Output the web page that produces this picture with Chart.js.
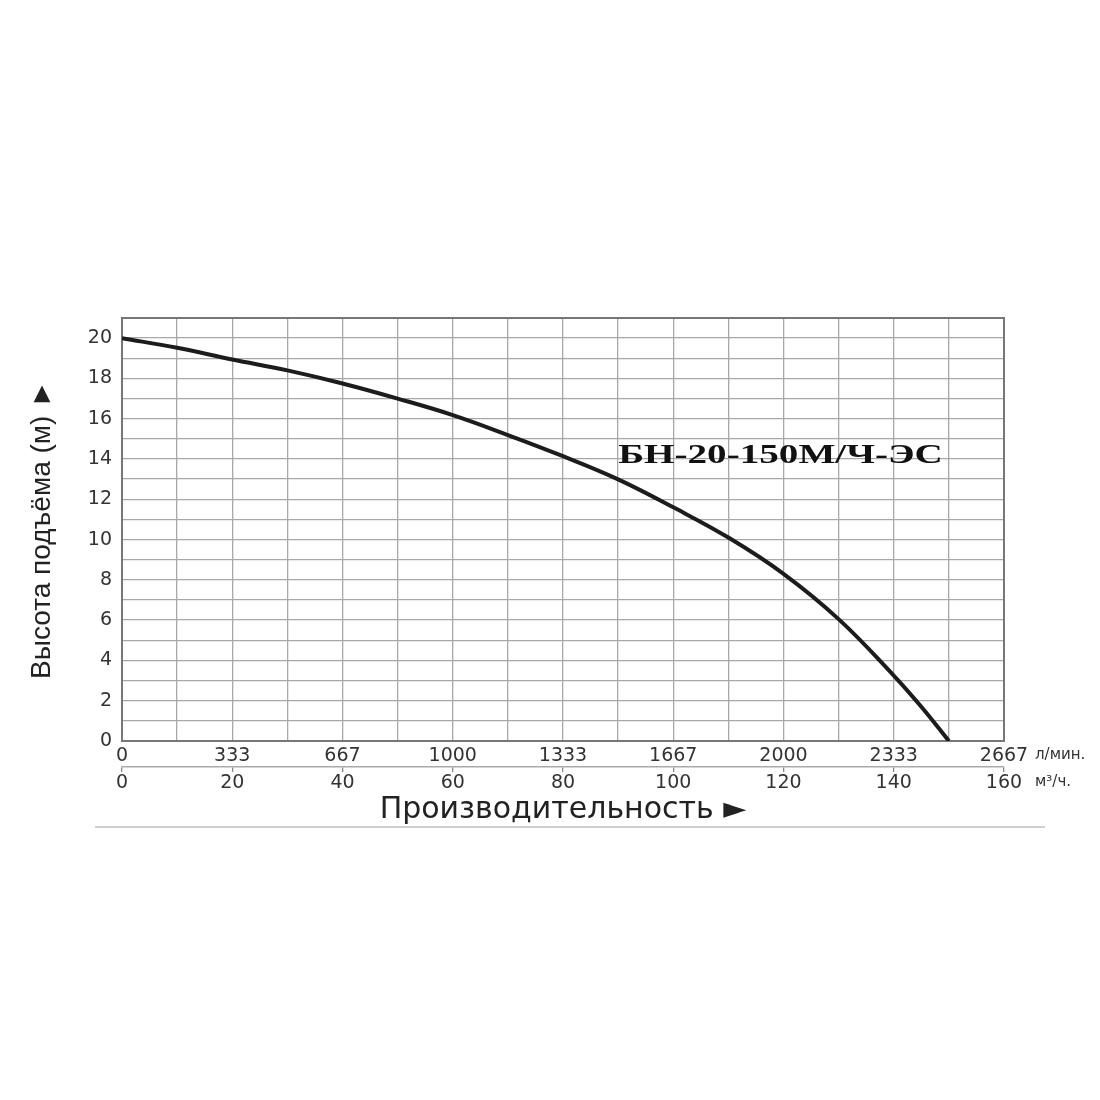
<!DOCTYPE html>
<html>
<head>
<meta charset="utf-8">
<script src="https://cdn.jsdelivr.net/npm/chart.js@4/dist/chart.umd.min.js"></script>
<style>
  html,body{margin:0;padding:0;background:#fff;}
  #wrap{width:1100px;height:1100px;}
</style>
</head>
<body>
<div id="wrap"><canvas id="c" width="1100" height="1100"></canvas></div>
<script>
// ---- data ----
const flowM3h = [0, 10, 20, 30, 40, 50, 60, 70, 80, 90, 100, 110, 120, 130, 140, 145, 150];
const headM   = [20, 19.52, 18.94, 18.4, 17.75, 17.0, 16.18, 15.19, 14.14, 12.99, 11.6, 10.1, 8.3, 6.05, 3.25, 1.7, 0];

const lpmTickLabels = ['0', '333', '667', '1000', '1333', '1667', '2000', '2333', '2667'];
const m3hTickLabels = ['0', '20', '40', '60', '80', '100', '120', '140', '160'];
const yTickLabels   = ['0', '2', '4', '6', '8', '10', '12', '14', '16', '18', '20'];

const modelName = 'БН-20-150М/Ч-ЭС';
const yTitle = 'Высота подъёма (м) ►';
const xTitle = 'Производительность ►';
const lpmUnit = 'л/мин.';
const m3hUnit = 'м³/ч.';
const modelLabelAt = {x: 90, y: 13.8};

const decor = {
  id: 'decor',
  beforeDatasetsDraw(chart) {
    const {ctx, chartArea: a} = chart;
    ctx.save();
    ctx.strokeStyle = '#777';
    ctx.lineWidth = 2;
    ctx.strokeRect(a.left, a.top, a.right - a.left, a.bottom - a.top);
    ctx.restore();
  },
  afterDraw(chart) {
    const {ctx, chartArea: a} = chart;
    const xs = chart.scales.x, x2 = chart.scales.x2, ys = chart.scales.y;
    ctx.save();
    // units
    ctx.fillStyle = '#333';
    ctx.font = '15px "DejaVu Sans"';
    ctx.textBaseline = 'middle';
    ctx.textAlign = 'left';
    ctx.fillText(lpmUnit, a.right + 31, a.bottom + 14);
    ctx.fillText(m3hUnit, a.right + 31, x2.top + 15);
    // model label
    const px = xs.getPixelForValue(modelLabelAt.x);
    const py = ys.getPixelForValue(modelLabelAt.y);
    ctx.fillStyle = '#111';
    ctx.font = 'bold 27px "Liberation Serif"';
    ctx.textBaseline = 'alphabetic';
    ctx.translate(px, py);
    ctx.scale(1.45, 1);
    ctx.fillText(modelName, 0, 0);
    ctx.setTransform(1, 0, 0, 1, 0, 0);
    // bottom rule
    ctx.strokeStyle = '#cfcfcf';
    ctx.lineWidth = 2;
    ctx.beginPath();
    ctx.moveTo(a.left - 27, x2.bottom - 1);
    ctx.lineTo(a.right + 41, x2.bottom - 1);
    ctx.stroke();
    ctx.restore();
  }
};

const tickFont = {family: 'DejaVu Sans', size: 19};

new Chart(document.getElementById('c'), {
  type: 'line',
  data: {
    datasets: [{
      data: flowM3h.map((q, i) => ({x: q, y: headM[i]})),
      borderColor: '#1c1c1c',
      borderWidth: 4,
      pointRadius: 0,
      tension: 0.4,
      fill: false,
      xAxisID: 'x',
      yAxisID: 'y'
    }]
  },
  options: {
    responsive: false,
    animation: false,
    devicePixelRatio: 1,
    layout: {padding: {top: 318, right: 96, bottom: 272, left: 25}},
    plugins: {legend: {display: false}, tooltip: {enabled: false}},
    scales: {
      x: {
        type: 'linear', position: 'bottom', weight: 0,
        min: 0, max: 160,
        afterFit: s => { s.height = 26; },
        grid: {color: '#a8a8a8', lineWidth: 1.3, drawTicks: false},
        border: {display: true, color: '#777', width: 2},
        ticks: {
          stepSize: 10, autoSkip: false, maxRotation: 0, padding: 4,
          color: '#333', font: tickFont,
          callback: v => (v % 20 === 0 ? lpmTickLabels[v / 20] : '')
        }
      },
      x2: {
        type: 'linear', position: 'bottom', weight: 1,
        min: 0, max: 160,
        afterFit: s => { s.height = 61; },
        grid: {drawOnChartArea: false, tickLength: 5, lineWidth: 1.3,
               color: c => (c.tick && c.tick.value % 20 === 0 ? '#888' : 'rgba(0,0,0,0)')},
        border: {display: true, color: '#aaa', width: 1.5},
        ticks: {
          stepSize: 10, autoSkip: false, maxRotation: 0, padding: 0,
          color: '#333', font: tickFont,
          callback: v => (v % 20 === 0 ? m3hTickLabels[v / 20] : '')
        },
        title: {display: true, text: xTitle, color: '#222',
                font: {family: 'DejaVu Sans', size: 30}, padding: {top: 0, bottom: 0}}
      },
      y: {
        type: 'linear', position: 'left',
        min: 0, max: 21,
        afterFit: s => { s.width = 97; },
        grid: {color: '#a8a8a8', lineWidth: 1.3, drawTicks: false},
        border: {display: true, color: '#777', width: 2},
        ticks: {
          stepSize: 1, autoSkip: false, padding: 10,
          color: '#333', font: tickFont,
          callback: v => (v % 2 === 0 && v / 2 < yTickLabels.length ? yTickLabels[v / 2] : '')
        },
        title: {display: true, text: yTitle, color: '#222',
                font: {family: 'Liberation Sans', size: 28}, padding: {top: 0, bottom: 0}}
      }
    }
  },
  plugins: [decor]
});
</script>
</body>
</html>
